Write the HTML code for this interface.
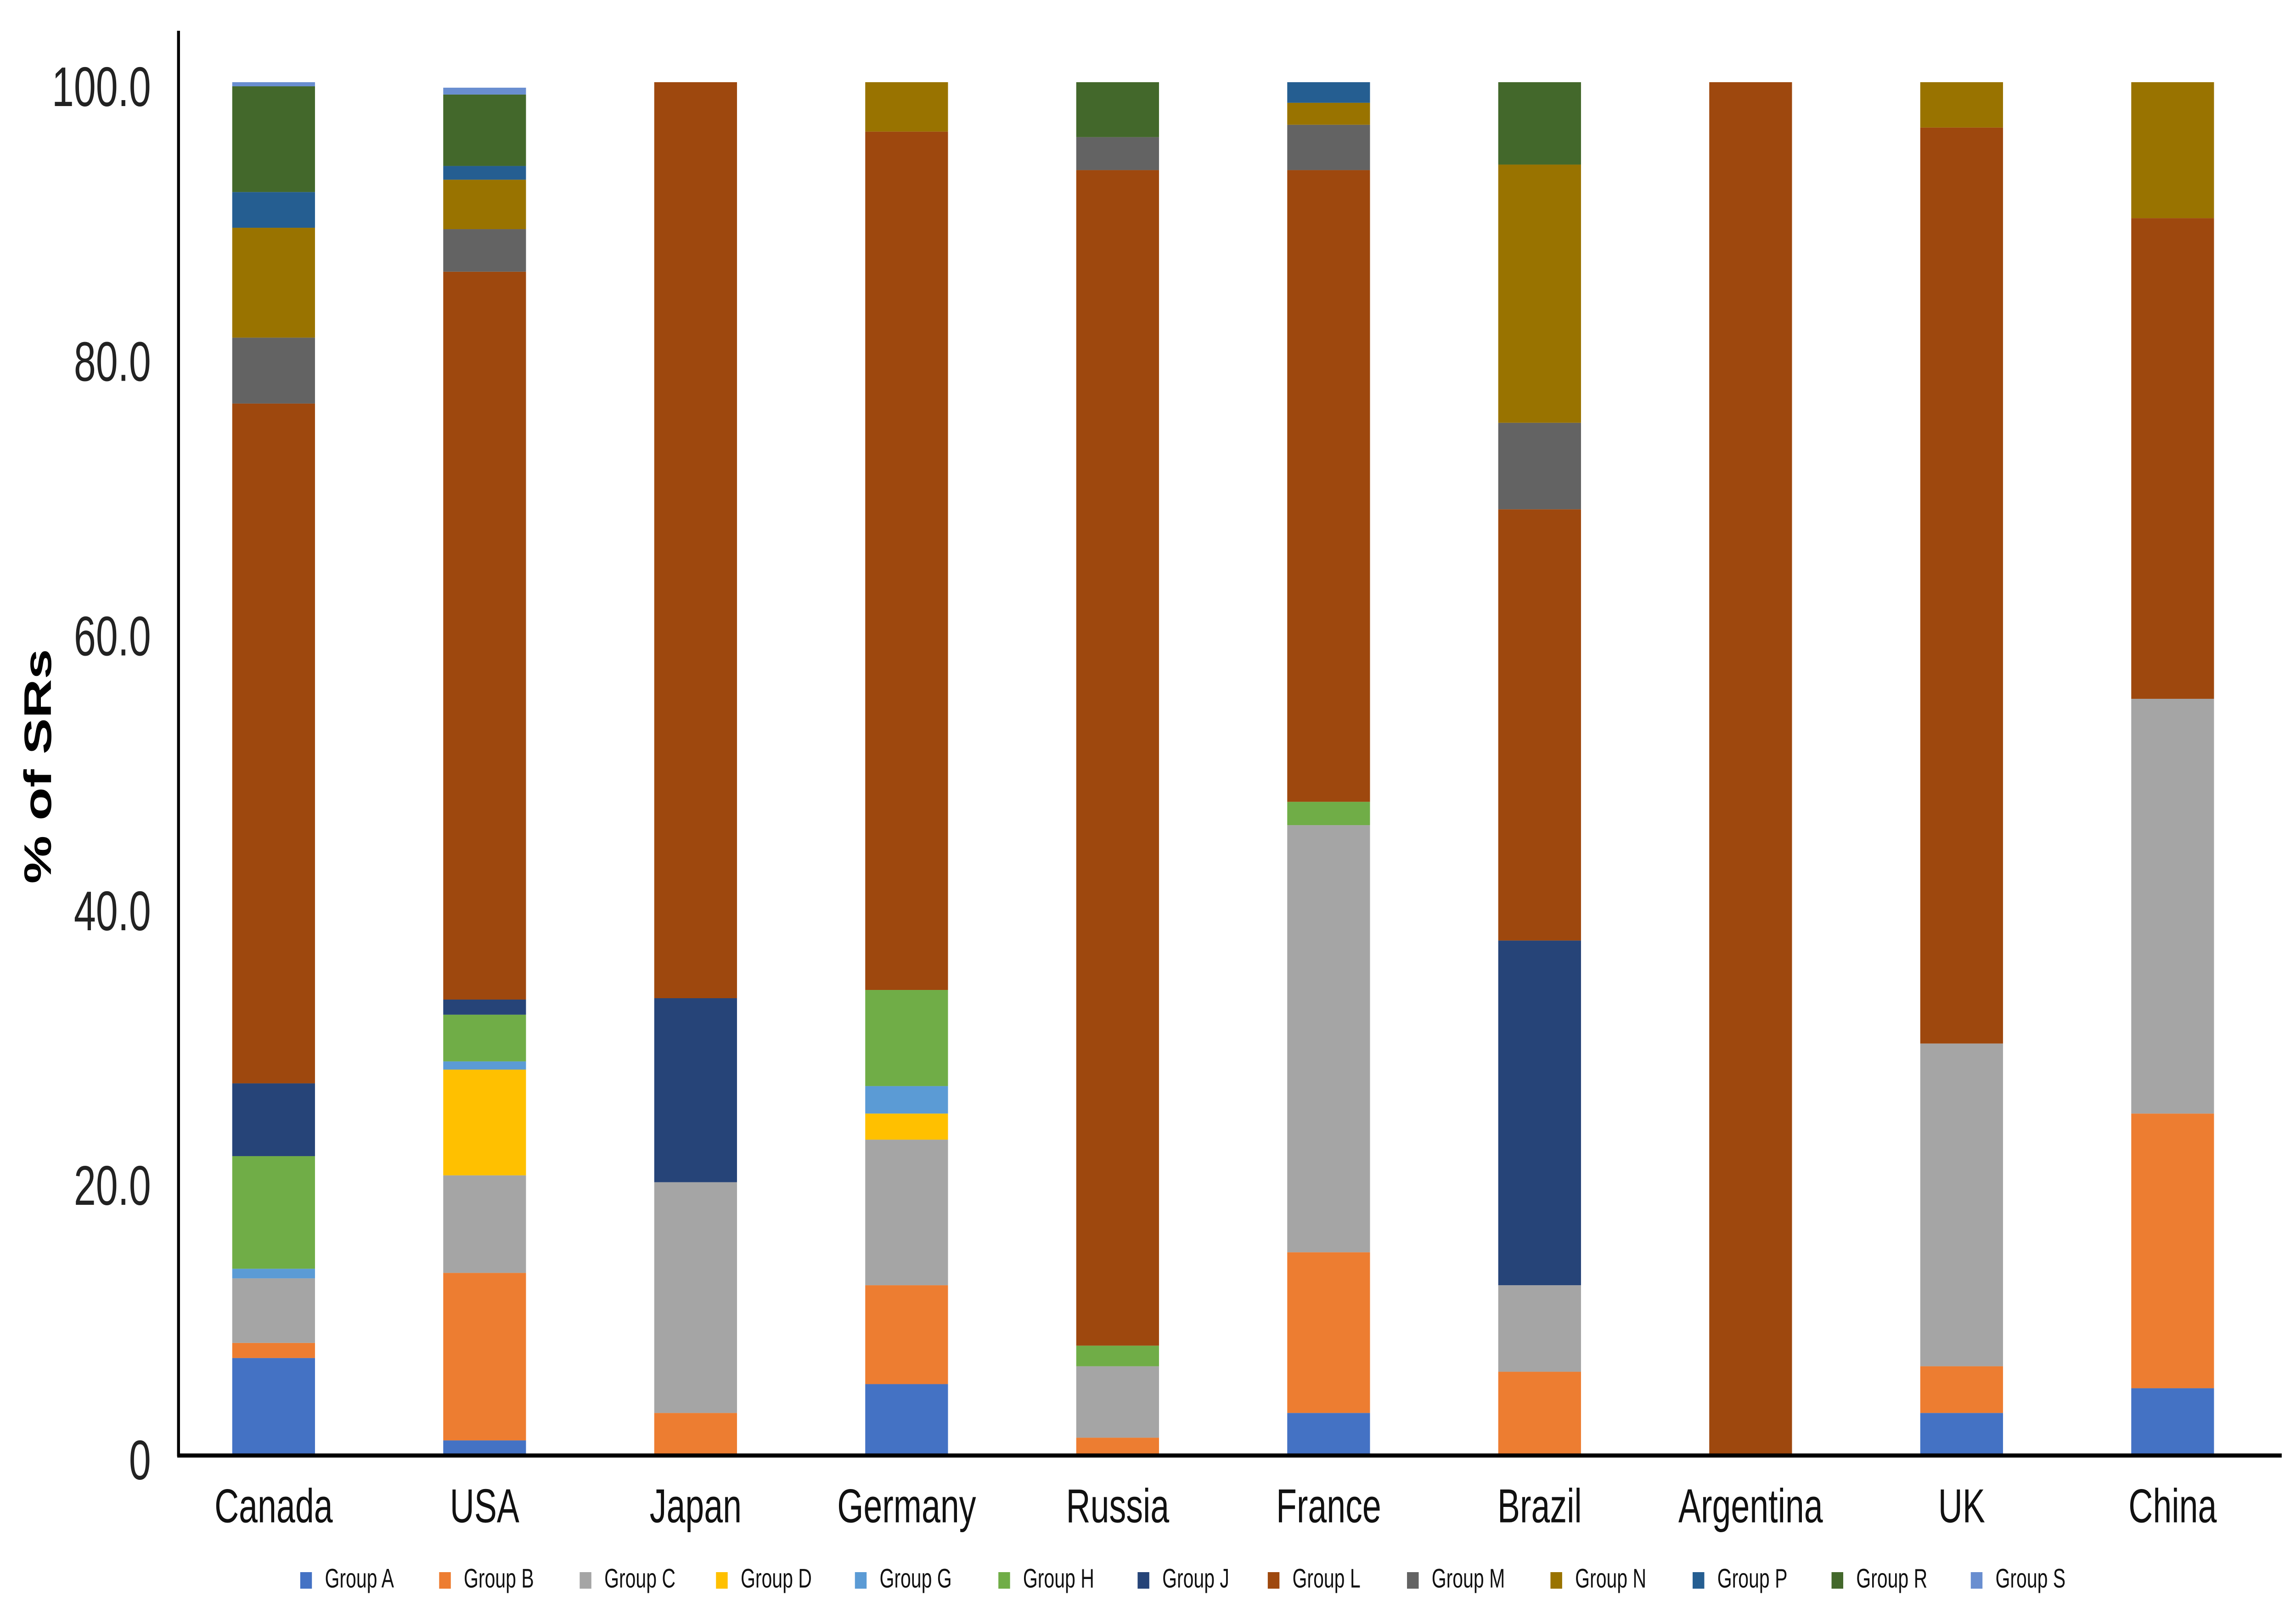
<!DOCTYPE html>
<html><head><meta charset="utf-8">
<style>
html,body{margin:0;padding:0;background:#fff;overflow:hidden;width:100%;height:100%;}
svg{display:block;width:100vw;height:100vh;}
text{font-family:"Liberation Sans",sans-serif;}
</style></head>
<body>
<svg id="chart" xmlns="http://www.w3.org/2000/svg" viewBox="0 0 7074 3513" preserveAspectRatio="none">
  <rect x="0" y="0" width="7074" height="3513" fill="#fff"/>
  <g id="bars"></g>
  <line x1="550" y1="67" x2="550" y2="3172" stroke="#000" stroke-width="9"/>
  <line x1="546" y1="3170" x2="7030" y2="3170" stroke="#000" stroke-width="9"/>
  <g id="yticks"></g>
  <g id="xticks"></g>
  <text x="126" y="1669" transform="rotate(-90 126 1669)" text-anchor="middle" dominant-baseline="middle" font-size="118" font-weight="bold" fill="#000">% of SRs</text>
  <g id="legend"></g>
</svg>
<script>
const categories = ["Canada","USA","Japan","Germany","Russia","France","Brazil","Argentina","UK","China"];
const groupNames = ["Group A","Group B","Group C","Group D","Group G","Group H","Group J","Group L","Group M","Group N","Group P","Group R","Group S"];
const groupA = [7.1, 1.1, 0, 5.2, 0, 3.1, 0, 0, 3.1, 4.9];
const groupB = [1.1, 12.2, 3.1, 7.2, 1.3, 11.7, 6.1, 0, 3.4, 20.0];
const groupC = [4.7, 7.1, 16.8, 10.6, 5.2, 31.1, 6.3, 0, 23.5, 30.2];
const groupD = [0, 7.7, 0, 1.9, 0, 0, 0, 0, 0, 0];
const groupG = [0.7, 0.6, 0, 2.0, 0, 0, 0, 0, 0, 0];
const groupH = [8.2, 3.4, 0, 7.0, 1.5, 1.7, 0, 0, 0, 0];
const groupJ = [5.3, 1.1, 13.4, 0, 0, 0, 25.1, 0, 0, 0];
const groupL = [49.5, 53.0, 66.7, 62.5, 85.6, 46.0, 31.4, 100, 66.7, 35.0];
const groupM = [4.8, 3.1, 0, 0, 2.4, 3.3, 6.3, 0, 0, 0];
const groupN = [8.0, 3.6, 0, 3.6, 0, 1.6, 18.8, 0, 3.3, 9.9];
const groupP = [2.6, 1.0, 0, 0, 0, 1.5, 0, 0, 0, 0];
const groupR = [7.7, 5.2, 0, 0, 4.0, 0, 6.0, 0, 0, 0];
const groupS = [0.3, 0.5, 0, 0, 0, 0, 0, 0, 0, 0];
const yTickValues = [0, 20, 40, 60, 80, 100];
const yTickLabels = ["0", "20.0", "40.0", "60.0", "80.0", "100.0"];

const series = [groupA,groupB,groupC,groupD,groupG,groupH,groupJ,groupL,groupM,groupN,groupP,groupR,groupS];
const colors = ["#4472C4","#ED7D31","#A5A5A5","#FFC000","#5B9BD5","#70AD47","#264478","#9E480E","#636363","#997300","#255E91","#43682B","#698ED0"];
const NS = "http://www.w3.org/2000/svg";
const baseY = 3170, topY = 179;
function yScale(v){ return baseY - (v/100)*(baseY-topY); }
function xCenter(i){ return 843 + i * 650.1; }
const barW = 255;

const barsG = document.getElementById('bars');
categories.forEach((c, i) => {
  let cum = 0;
  series.forEach((s, k) => {
    const v = s[i];
    if (v <= 0) return;
    const r = document.createElementNS(NS, 'rect');
    r.setAttribute('x', xCenter(i) - barW/2);
    r.setAttribute('y', yScale(cum + v));
    r.setAttribute('width', barW);
    r.setAttribute('height', yScale(cum) - yScale(cum + v));
    r.setAttribute('fill', colors[k]);
    
    
    barsG.appendChild(r);
    cum += v;
  });
});

const yt = document.getElementById('yticks');
yTickValues.forEach((v, i) => {
  const t = document.createElementNS(NS, 'text');
  t.setAttribute('x', 465);
  t.setAttribute('y', yScale(v) + 20);
  t.setAttribute('text-anchor', 'end');
  t.setAttribute('dominant-baseline', 'middle');
  t.setAttribute('font-size', '122');
  t.setAttribute('fill', '#222');
  t.textContent = yTickLabels[i];
  
  
  yt.appendChild(t);
});

const xt = document.getElementById('xticks');
categories.forEach((c, i) => {
  const t = document.createElementNS(NS, 'text');
  t.setAttribute('x', xCenter(i));
  t.setAttribute('y', 3288);
  t.setAttribute('text-anchor', 'middle');
  t.setAttribute('dominant-baseline', 'middle');
  t.setAttribute('font-size', '104');
  t.setAttribute('fill', '#111');
  t.textContent = c;
  
  
  xt.appendChild(t);
});

const lg = document.getElementById('legend');
const legendX = [943,1371,1804,2224,2652,3094,3523,3924,4353,4795,5233,5661,6090];
groupNames.forEach((g, k) => {
  const item = document.createElementNS(NS, 'g');
  
  
  const sw = document.createElementNS(NS, 'rect');
  sw.setAttribute('x', legendX[k] - 18);
  sw.setAttribute('y', 3424);
  sw.setAttribute('width', 36);
  sw.setAttribute('height', 36);
  sw.setAttribute('fill', colors[k]);
  
  
  item.appendChild(sw);
  const t = document.createElementNS(NS, 'text');
  t.setAttribute('x', legendX[k] + 58);
  t.setAttribute('y', 3442);
  t.setAttribute('dominant-baseline', 'middle');
  t.setAttribute('font-size', '58');
  t.setAttribute('fill', '#111');
  t.textContent = g;
  
  
  item.appendChild(t);
  lg.appendChild(item);
});
</script>
</body></html>
